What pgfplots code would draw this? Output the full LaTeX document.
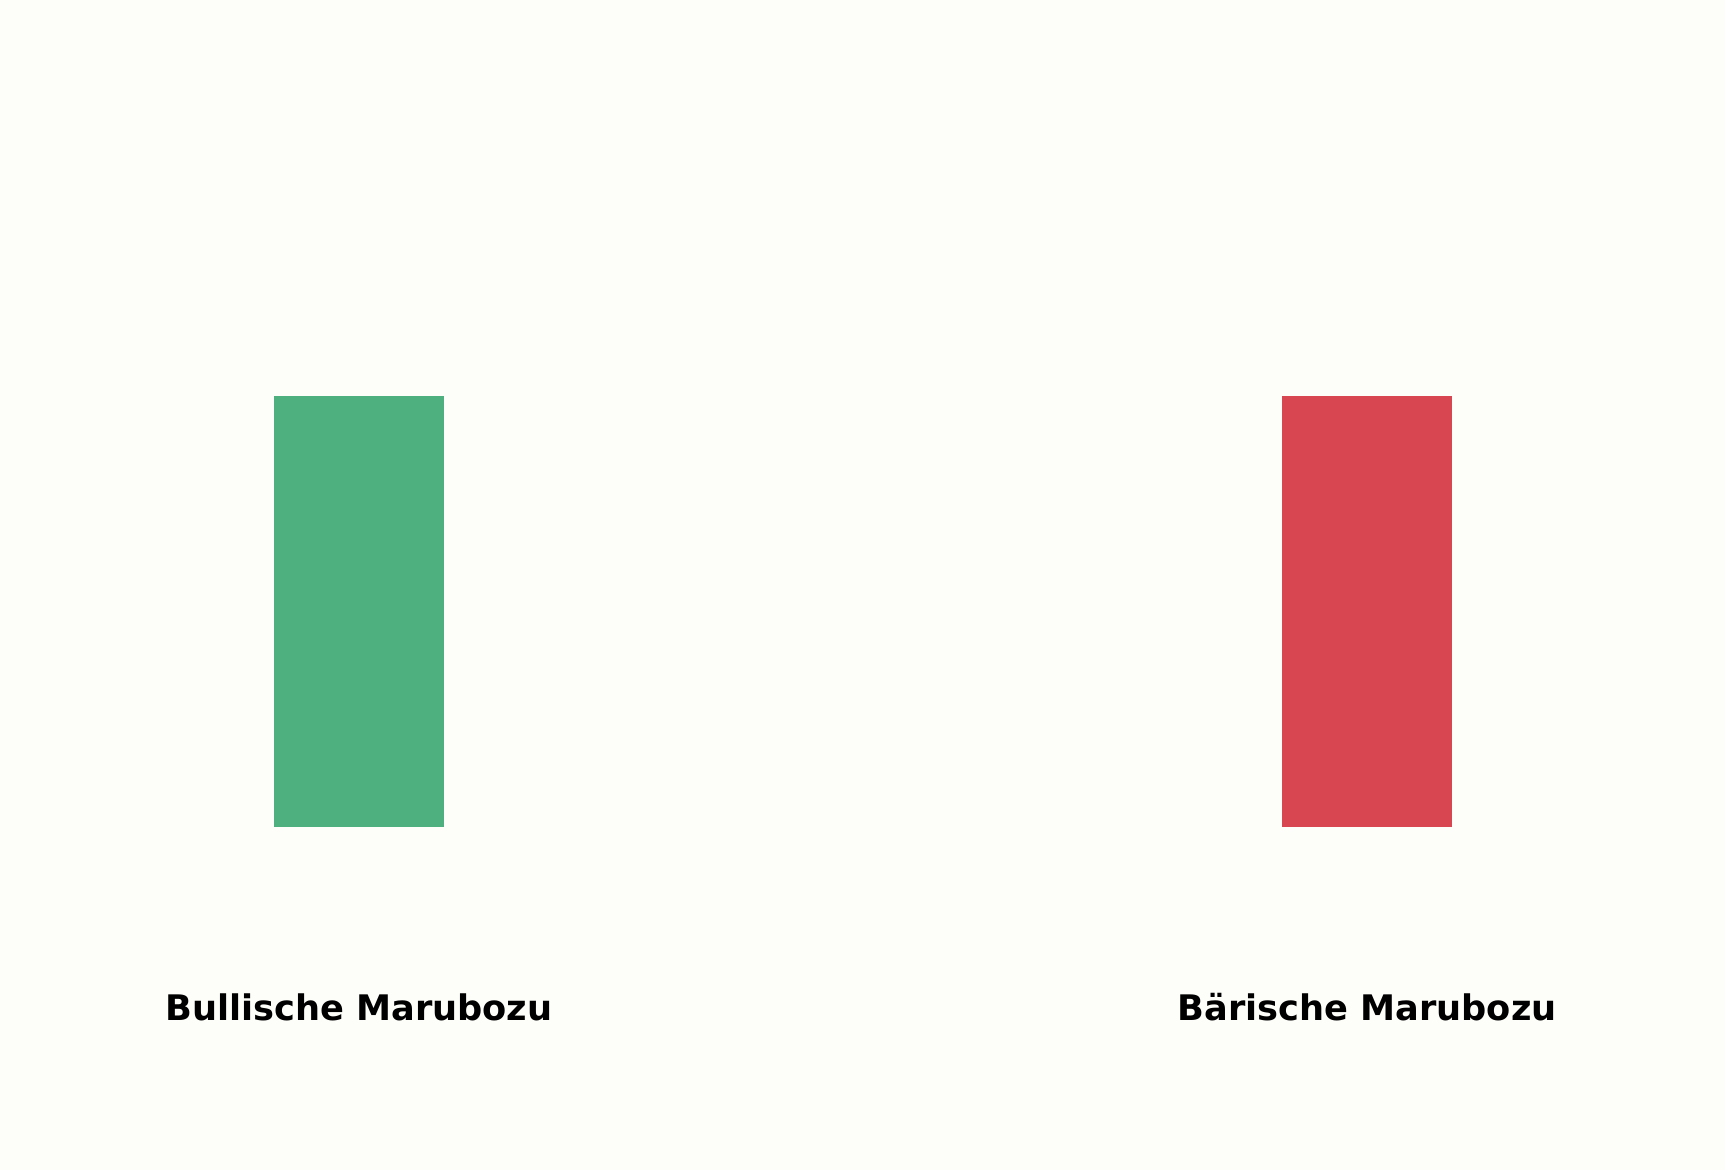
\documentclass[border=0pt]{standalone}
\usepackage{pgfplots}
\pgfplotsset{compat=1.18}
\usepackage{fontspec}
\setmainfont{DejaVu Sans}

\definecolor{bg}{HTML}{FDFDF9}
\definecolor{bull}{HTML}{4FB07F}
\definecolor{bear}{HTML}{D84652}

% open/close of the two candles (no wicks): base = low end, then body
\pgfplotstableread{
x base bull bear
0 100  10   0
1 100   0  10
}\candles

\begin{document}
\begin{tikzpicture}
\begin{axis}[
    scale only axis,
    width=431.25pt, height=292.5pt,
    xmin=-0.356, xmax=1.355,
    ymin=92.04, ymax=119.19,
    axis lines=none,
    ticks=none,
    axis background/.style={fill=bg},
    ybar stacked,
    bar width=42.5pt,
    clip=false,
]
    \addplot[fill=none, draw=none] table[x=x, y=base] {\candles};
    \addplot[fill=bull, draw=none] table[x=x, y=bull] {\candles};
    \addplot[fill=bear, draw=none] table[x=x, y=bear] {\candles};
    \node[anchor=base, font=\fontsize{8.8}{10}\selectfont\bfseries] at (axis cs:0,95.5) {Bullische Marubozu};
    \node[anchor=base, font=\fontsize{8.8}{10}\selectfont\bfseries] at (axis cs:1,95.5) {Bärische Marubozu};
\end{axis}
\end{tikzpicture}
\end{document}
